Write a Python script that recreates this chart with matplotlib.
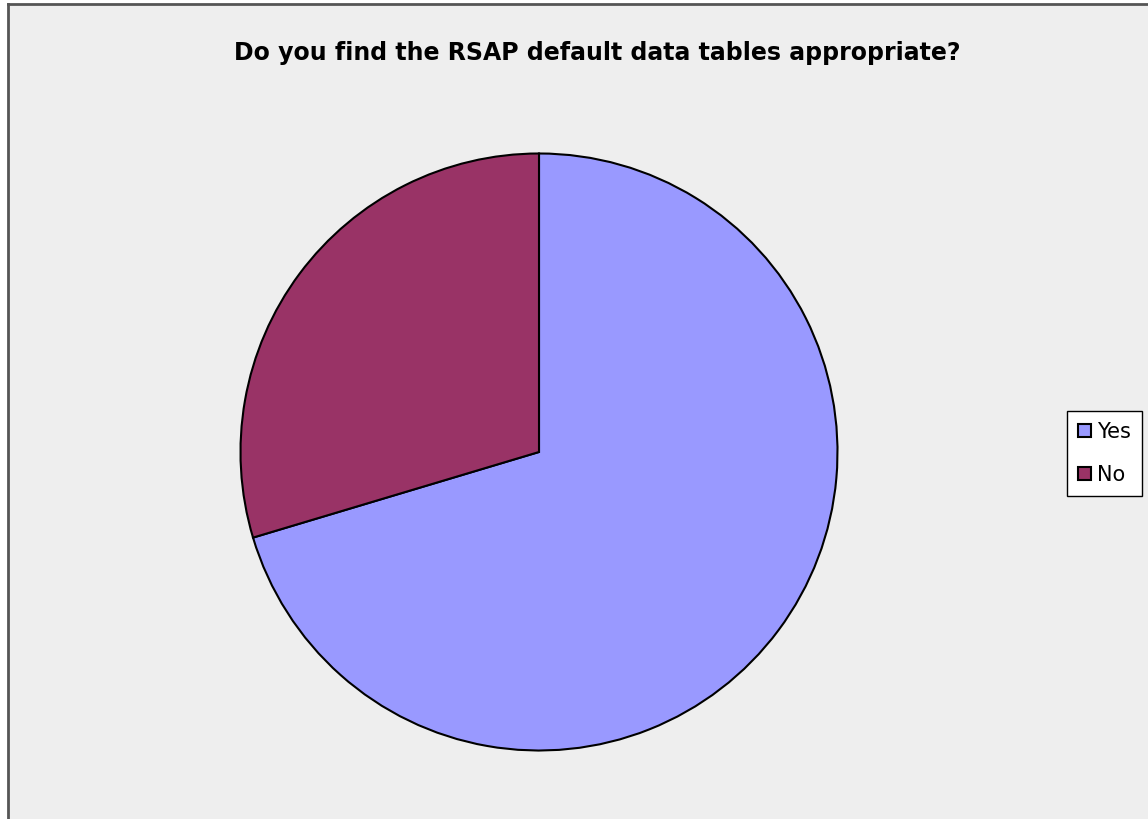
import matplotlib.pyplot as plt
from matplotlib.patches import Patch

# data
labels = ['Yes', 'No']
counts = [19, 8]
colors = ['#9999FF', '#993366']
title = 'Do you find the RSAP default data tables appropriate?'

W, H = 1148, 819
fig = plt.figure(figsize=(W / 100, H / 100), dpi=100)
fig.patch.set_facecolor('white')

# grey chart area with dark left/top border
bg = fig.add_axes([8 / W, 0, 1 - 8 / W, 1 - 4 / H])
bg.set_facecolor('#EEEEEE')
bg.set_xticks([])
bg.set_yticks([])
for s in ['right', 'bottom']:
    bg.spines[s].set_visible(False)
for s in ['left', 'top']:
    bg.spines[s].set_color('#555555')
    bg.spines[s].set_linewidth(2)

# pie
cx, cy, r = 539, 452, 298.5
ax = fig.add_axes([(cx - r) / W, (H - cy - r) / H, 2 * r / W, 2 * r / H])
ax.pie(counts, colors=colors, startangle=90, counterclock=False,
       wedgeprops=dict(edgecolor='black', linewidth=1.5))
ax.set_xlim(-1, 1)
ax.set_ylim(-1, 1)
ax.set_aspect('equal')
ax.axis('off')

fig.text(597 / W, 1 - 53 / H, title, ha='center', va='center',
         fontsize=17, fontweight='bold', family='DejaVu Sans')

handles = [Patch(facecolor=c, edgecolor='black', linewidth=1.5) for c in colors]
leg = fig.legend(handles, labels, loc='center', bbox_to_anchor=(1104.5 / W, 1 - 453.5 / H),
                 fontsize=15, frameon=True, fancybox=False, framealpha=1,
                 handlelength=0.6, handleheight=0.6, handletextpad=0.3,
                 borderpad=0.55, labelspacing=1.1, borderaxespad=0)
leg.get_frame().set_edgecolor('black')
leg.get_frame().set_linewidth(1)

fig.savefig('out.png', dpi=100)
